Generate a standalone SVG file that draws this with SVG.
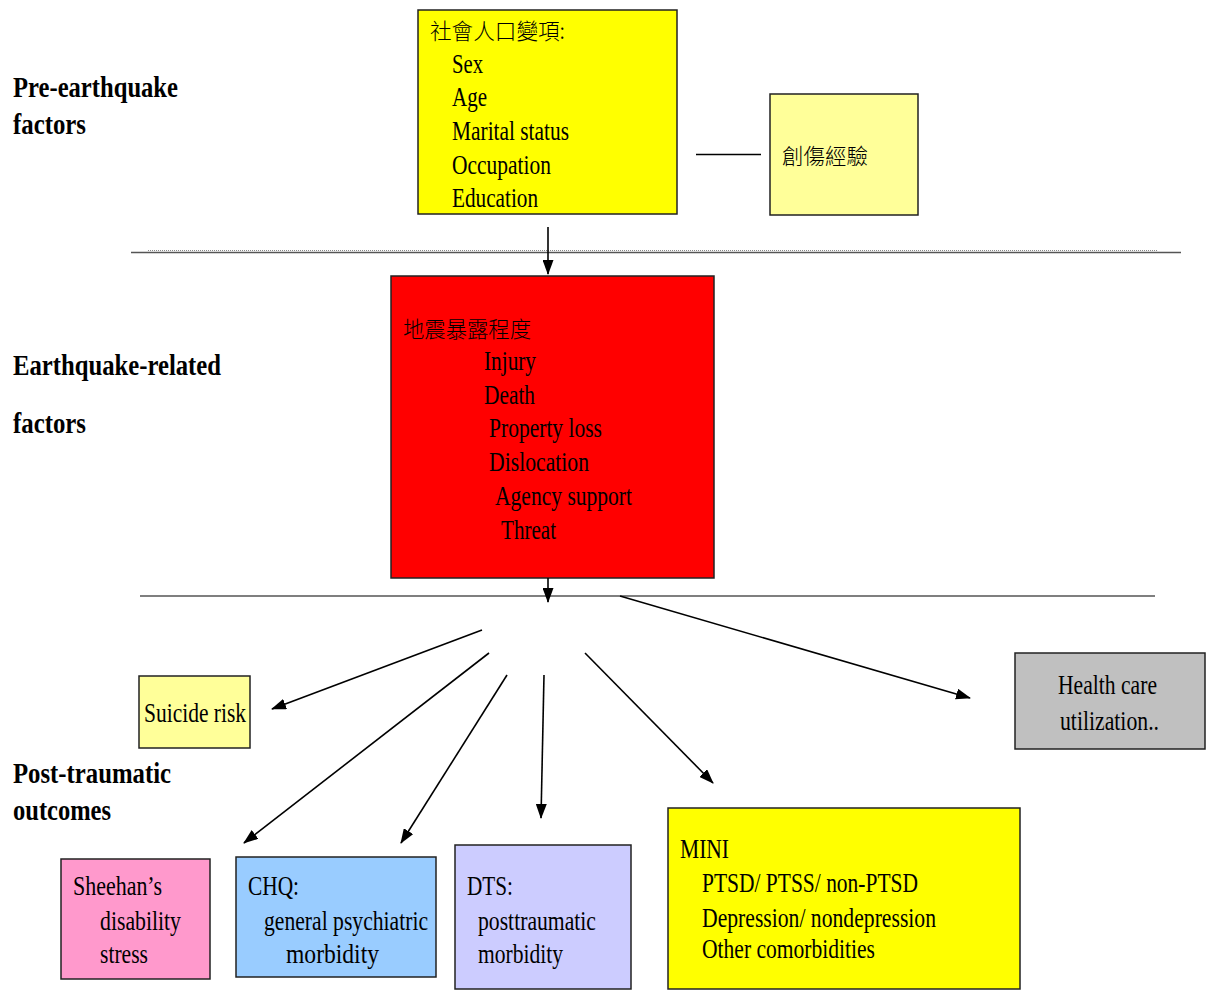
<svg xmlns="http://www.w3.org/2000/svg" width="1207" height="992" viewBox="0 0 1207 992">
<style>
  .box{stroke:#222;stroke-width:1.5}
  text{font-family:"Liberation Serif","Noto Sans CJK TC",serif;font-size:28px;fill:#000}
  .cjk{font-family:"Noto Sans CJK TC","Liberation Serif",sans-serif;font-size:22px;font-weight:300}
  .lbl{font-weight:bold;font-size:29px}
  .conn{stroke:#000;stroke-width:1.6;fill:none}
  .sep{stroke:#555;stroke-width:1.3}
</style>
<defs>
  <marker id="ah" markerUnits="userSpaceOnUse" markerWidth="15" markerHeight="11" refX="14" refY="5.5" orient="auto">
    <path d="M0,0 L15,5.5 L0,11 z" fill="#000"/>
  </marker>
</defs>
<rect width="1207" height="992" fill="#fff"/>

<g id="labels">
  <text class="lbl" x="13" y="97" textLength="165" lengthAdjust="spacingAndGlyphs">Pre-earthquake</text>
  <text class="lbl" x="13" y="134" textLength="73" lengthAdjust="spacingAndGlyphs">factors</text>
  <text class="lbl" x="13" y="375" textLength="208" lengthAdjust="spacingAndGlyphs">Earthquake-related</text>
  <text class="lbl" x="13" y="433" textLength="73" lengthAdjust="spacingAndGlyphs">factors</text>
  <text class="lbl" x="13" y="783" textLength="158" lengthAdjust="spacingAndGlyphs">Post-traumatic</text>
  <text class="lbl" x="13" y="820" textLength="98" lengthAdjust="spacingAndGlyphs">outcomes</text>
</g>

<g id="separators">
  <line class="sep" x1="131" y1="252.5" x2="1181" y2="252.5"/>
  <line x1="148" y1="250.5" x2="1157" y2="250.5" stroke="#888" stroke-width="1" stroke-dasharray="1,1"/>
  <line class="sep" x1="140" y1="596" x2="1155" y2="596"/>
</g>

<g id="demographics">
  <rect class="box" x="418" y="10" width="259" height="204" fill="#ffff00"/>
  <text class="cjk" x="430" y="39" textLength="135" lengthAdjust="spacingAndGlyphs">社會人口變項:</text>
  <text x="452" y="73" textLength="31" lengthAdjust="spacingAndGlyphs">Sex</text>
  <text x="452" y="106" textLength="35" lengthAdjust="spacingAndGlyphs">Age</text>
  <text x="452" y="140" textLength="117" lengthAdjust="spacingAndGlyphs">Marital status</text>
  <text x="452" y="174" textLength="99" lengthAdjust="spacingAndGlyphs">Occupation</text>
  <text x="452" y="207" textLength="86" lengthAdjust="spacingAndGlyphs">Education</text>
</g>

<g id="trauma">
  <rect class="box" x="770" y="94" width="148" height="121" fill="#ffff99"/>
  <text class="cjk" x="782" y="164" textLength="86" lengthAdjust="spacingAndGlyphs">創傷經驗</text>
</g>

<g id="exposure">
  <rect class="box" x="391" y="276" width="323" height="302" fill="#ff0000"/>
  <text class="cjk" x="403" y="337" textLength="128" lengthAdjust="spacingAndGlyphs">地震暴露程度</text>
  <text x="484" y="370" textLength="52" lengthAdjust="spacingAndGlyphs">Injury</text>
  <text x="484" y="404" textLength="51" lengthAdjust="spacingAndGlyphs">Death</text>
  <text x="489" y="437" textLength="113" lengthAdjust="spacingAndGlyphs">Property loss</text>
  <text x="489" y="471" textLength="100" lengthAdjust="spacingAndGlyphs">Dislocation</text>
  <text x="495" y="505" textLength="137" lengthAdjust="spacingAndGlyphs">Agency support</text>
  <text x="501" y="539" textLength="55" lengthAdjust="spacingAndGlyphs">Threat</text>
</g>

<g id="suicide">
  <rect class="box" x="139" y="676" width="111" height="72" fill="#ffff99"/>
  <text x="144" y="722" textLength="102" lengthAdjust="spacingAndGlyphs">Suicide risk</text>
</g>

<g id="healthcare">
  <rect class="box" x="1015" y="653" width="190" height="96" fill="#c0c0c0"/>
  <text x="1058" y="694" textLength="99" lengthAdjust="spacingAndGlyphs">Health care</text>
  <text x="1060" y="730" textLength="99" lengthAdjust="spacingAndGlyphs">utilization..</text>
</g>

<g id="sheehan">
  <rect class="box" x="61" y="859" width="149" height="120" fill="#ff99cc"/>
  <text x="73" y="895" textLength="89" lengthAdjust="spacingAndGlyphs">Sheehan’s</text>
  <text x="100" y="930" textLength="81" lengthAdjust="spacingAndGlyphs">disability</text>
  <text x="100" y="963" textLength="48" lengthAdjust="spacingAndGlyphs">stress</text>
</g>

<g id="chq">
  <rect class="box" x="236" y="857" width="200" height="120" fill="#99ccff"/>
  <text x="248" y="895" textLength="51" lengthAdjust="spacingAndGlyphs">CHQ:</text>
  <text x="264" y="930" textLength="164" lengthAdjust="spacingAndGlyphs">general psychiatric</text>
  <text x="286" y="963" textLength="93" lengthAdjust="spacingAndGlyphs">morbidity</text>
</g>

<g id="dts">
  <rect class="box" x="455" y="845" width="176" height="144" fill="#ccccff"/>
  <text x="467" y="895" textLength="46" lengthAdjust="spacingAndGlyphs">DTS:</text>
  <text x="478" y="930" textLength="118" lengthAdjust="spacingAndGlyphs">posttraumatic</text>
  <text x="478" y="963" textLength="85" lengthAdjust="spacingAndGlyphs">morbidity</text>
</g>

<g id="mini">
  <rect class="box" x="668" y="808" width="352" height="181" fill="#ffff00"/>
  <text x="680" y="858" textLength="49" lengthAdjust="spacingAndGlyphs">MINI</text>
  <text x="702" y="892" textLength="216" lengthAdjust="spacingAndGlyphs">PTSD/ PTSS/ non-PTSD</text>
  <text x="702" y="927" textLength="234" lengthAdjust="spacingAndGlyphs">Depression/ nondepression</text>
  <text x="702" y="958" textLength="173" lengthAdjust="spacingAndGlyphs">Other comorbidities</text>
</g>

<g id="connectors">
  <line class="conn" x1="696" y1="154.5" x2="761" y2="154.5" stroke-width="1.2"/>
  <line class="conn" x1="548" y1="227" x2="548" y2="274" stroke-width="1.3" marker-end="url(#ah)"/>
  <line class="conn" x1="548" y1="578" x2="548" y2="602" stroke-width="1.3" marker-end="url(#ah)"/>
  <line class="conn" x1="482" y1="630" x2="272" y2="709" marker-end="url(#ah)"/>
  <line class="conn" x1="489" y1="653" x2="244" y2="843" marker-end="url(#ah)"/>
  <line class="conn" x1="507" y1="675" x2="401" y2="843" marker-end="url(#ah)"/>
  <line class="conn" x1="544" y1="675" x2="541" y2="818" marker-end="url(#ah)"/>
  <line class="conn" x1="585" y1="653" x2="713" y2="783" marker-end="url(#ah)"/>
  <line class="conn" x1="620" y1="596" x2="970" y2="698" marker-end="url(#ah)"/>
</g>
</svg>
